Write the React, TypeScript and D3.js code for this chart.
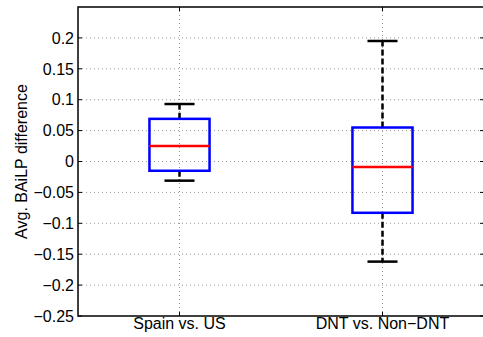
import * as d3 from "d3";
import React from "react";

// values
const groups = ["Spain vs. US", "DNT vs. Non\u2212DNT"];
const whiskerLow = [-0.031, -0.162];
const q1 = [-0.015, -0.083];
const median = [0.025, -0.009];
const q3 = [0.069, 0.055];
const whiskerHigh = [0.093, 0.195];
const yTicks = [-0.25, -0.2, -0.15, -0.1, -0.05, 0, 0.05, 0.1, 0.15, 0.2];

const fmt = (v: number) => {
    const s = String(Math.round(v * 100) / 100);
    return s.replace("-", "\u2212");
};

const App = () => {
    const width = 483;
    const height = 337;
    const left = 78;
    const right = 484;
    const top = 7;
    const bottom = 316;
    const font = "'Liberation Sans', Arial, Helvetica, sans-serif";

    const x = d3.scaleLinear().domain([0.5, 2.5]).range([left, right]);
    const y = d3.scaleLinear().domain([-0.25, 0.25]).range([bottom, top]);

    const boxHalf = 0.148;
    const capHalf = 0.074;

    return (
        <svg width={width} height={height} style={{ position: "absolute", left: 0, top: 0 }}>
            <rect x={0} y={0} width={width} height={height} fill="#fff" />

            {/* grid */}
            {yTicks.filter(t => t > -0.25).map(t => (
                <line key={"gy" + t} x1={left} x2={right} y1={y(t)} y2={y(t)}
                    stroke="#999" strokeWidth={1} strokeDasharray="1,3" />
            ))}
            {groups.map((g, i) => (
                <line key={"gx" + i} x1={x(i + 1)} x2={x(i + 1)} y1={top} y2={bottom}
                    stroke="#999" strokeWidth={1} strokeDasharray="1,3" />
            ))}

            {/* boxes */}
            {groups.map((g, i) => {
                const cx = x(i + 1);
                const bw = x(1 + boxHalf) - x(1);
                const cw = x(1 + capHalf) - x(1);
                return (
                    <g key={"b" + i}>
                        <line x1={cx} x2={cx} y1={y(q3[i])} y2={y(whiskerHigh[i])}
                            stroke="#000" strokeWidth={2.5} strokeDasharray="6,3" />
                        <line x1={cx} x2={cx} y1={y(q1[i])} y2={y(whiskerLow[i])}
                            stroke="#000" strokeWidth={2.5} strokeDasharray="6,3" />
                        <line x1={cx - cw} x2={cx + cw} y1={y(whiskerHigh[i])} y2={y(whiskerHigh[i])}
                            stroke="#000" strokeWidth={2.5} />
                        <line x1={cx - cw} x2={cx + cw} y1={y(whiskerLow[i])} y2={y(whiskerLow[i])}
                            stroke="#000" strokeWidth={2.5} />
                        <rect x={cx - bw} y={y(q3[i])} width={2 * bw} height={y(q1[i]) - y(q3[i])}
                            fill="none" stroke="#0000ff" strokeWidth={2.5} />
                        <line x1={cx - bw} x2={cx + bw} y1={y(median[i])} y2={y(median[i])}
                            stroke="#ff0000" strokeWidth={2.5} />
                    </g>
                );
            })}

            {/* frame */}
            <rect x={left} y={top} width={right - left} height={bottom - top}
                fill="none" stroke="#000" strokeWidth={1.5} />

            {/* y ticks */}
            {yTicks.map(t => (
                <g key={"ty" + t}>
                    <line x1={left} x2={left + 4} y1={y(t)} y2={y(t)} stroke="#000" strokeWidth={1} />
                    <line x1={right - 4} x2={right} y1={y(t)} y2={y(t)} stroke="#000" strokeWidth={1} />
                    <text x={left - 4} y={y(t)} dy="0.36em" textAnchor="end"
                        fontFamily={font} fontSize={16} fill="#000">{fmt(t)}</text>
                </g>
            ))}

            {/* x ticks */}
            {groups.map((g, i) => (
                <g key={"tx" + i}>
                    <line x1={x(i + 1)} x2={x(i + 1)} y1={bottom} y2={bottom - 4} stroke="#000" strokeWidth={1} />
                    <line x1={x(i + 1)} x2={x(i + 1)} y1={top} y2={top + 4} stroke="#000" strokeWidth={1} />
                    <text x={x(i + 1)} y={329} textAnchor="middle"
                        fontFamily={font} fontSize={16} fill="#000">{g}</text>
                </g>
            ))}

            <text transform={`translate(27, ${(top + bottom) / 2}) rotate(-90)`} textAnchor="middle"
                fontFamily={font} fontSize={16} fill="#000">Avg. BAiLP difference</text>
        </svg>
    );
};

export default App;
